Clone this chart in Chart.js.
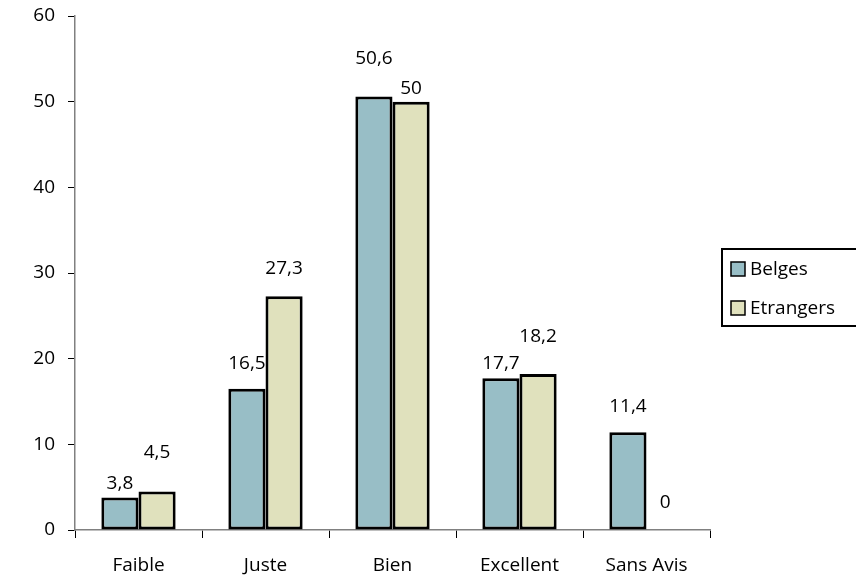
<!DOCTYPE html>
<html>
<head>
<meta charset="utf-8">
<script src="https://cdn.jsdelivr.net/npm/chart.js@4/dist/chart.umd.min.js"></script>
<style>
  html, body { margin: 0; padding: 0; background: #fff; }
  #wrap { width: 856px; height: 585px; }
</style>
</head>
<body>
<div id="wrap"><canvas id="chartAvis"></canvas></div>
<script>
// Categories and values per group
const categories = ['Faible', 'Juste', 'Bien', 'Excellent', 'Sans Avis'];
const belges = [3.8, 16.5, 50.6, 17.7, 11.4];
const etrangers = [4.5, 27.3, 50, 18.2, 0];
const yTicks = [0, 10, 20, 30, 40, 50, 60];

// How far each value label sits above its bar (px)
const labelLiftBelges = [14, 25, 38, 15, 26];
const labelLiftEtrangers = [39, 28, 13, 37, 27];

const FONT = '"Open Sans", "DejaVu Sans", sans-serif';
const FONT_SIZE = 19;

// Value labels, decimal comma
const valueLabels = {
    id: 'valueLabels',
    afterDatasetsDraw(chart) {
        const ctx = chart.ctx;
        const lifts = [labelLiftBelges, labelLiftEtrangers];
        ctx.save();
        ctx.font = FONT_SIZE + 'px ' + FONT;
        ctx.fillStyle = '#000';
        ctx.textAlign = 'center';
        ctx.textBaseline = 'middle';
        chart.data.datasets.forEach((ds, i) => {
            chart.getDatasetMeta(i).data.forEach((bar, j) => {
                const txt = String(ds.data[j]).replace('.', ',');
                ctx.fillText(txt, bar.x, bar.y - lifts[i][j]);
            });
        });
        ctx.restore();
    }
};

// Boxed legend to the right of the plot
const boxLegend = {
    id: 'boxLegend',
    afterDraw(chart) {
        const ctx = chart.ctx;
        const left = chart.chartArea.right + 12;
        const top = 249;
        ctx.save();
        ctx.lineWidth = 2;
        ctx.strokeStyle = '#000';
        ctx.strokeRect(left, top, 856 - left + 2, 77);
        ctx.font = FONT_SIZE + 'px ' + FONT;
        ctx.textBaseline = 'middle';
        chart.data.datasets.forEach((ds, i) => {
            const cy = top + 20 + i * 39;
            ctx.fillStyle = ds.backgroundColor;
            ctx.fillRect(left + 9, cy - 7, 14, 14);
            ctx.lineWidth = 1.5;
            ctx.strokeRect(left + 9, cy - 7, 14, 14);
            ctx.fillStyle = '#000';
            ctx.fillText(ds.label, left + 28, cy + 1);
        });
        ctx.restore();
    }
};

new Chart(document.getElementById('chartAvis'), {
    type: 'bar',
    data: {
        labels: categories,
        datasets: [
            {
                label: 'Belges',
                data: belges,
                backgroundColor: '#98bec6',
                borderColor: '#000',
                borderWidth: 3,
                borderSkipped: false
            },
            {
                label: 'Etrangers',
                data: etrangers,
                backgroundColor: '#e0e1bd',
                borderColor: '#000',
                borderWidth: 3,
                borderSkipped: false
            }
        ]
    },
    options: {
        responsive: true,
        maintainAspectRatio: false,
        animation: false,
        layout: { padding: { top: 16, right: 146, left: 0, bottom: 0 } },
        datasets: { bar: { categoryPercentage: 0.585, barPercentage: 1 } },
        plugins: {
            legend: { display: false },
            tooltip: { enabled: false }
        },
        scales: {
            x: {
                grid: {
                    drawOnChartArea: false,
                    tickLength: 8,
                    tickColor: '#000',
                    tickWidth: 1
                },
                border: { color: '#808080', width: 1.5 },
                ticks: {
                    color: '#000',
                    font: { family: FONT, size: FONT_SIZE },
                    padding: 16,
                    maxRotation: 0
                },
                afterFit: s => { s.height = 55; }
            },
            y: {
                min: 0,
                max: 60,
                afterBuildTicks: s => { s.ticks = yTicks.map(v => ({ value: v })); },
                grid: {
                    drawOnChartArea: false,
                    tickLength: 7,
                    tickColor: '#000',
                    tickWidth: 1
                },
                border: { color: '#808080', width: 1.5 },
                ticks: {
                    color: '#000',
                    font: { family: FONT, size: FONT_SIZE },
                    padding: 13
                },
                afterFit: s => {
                    s.width = 75;
                    s.paddingTop = 0;
                    s.paddingBottom = 0;
                }
            }
        }
    },
    plugins: [valueLabels, boxLegend]
});
</script>
</body>
</html>
